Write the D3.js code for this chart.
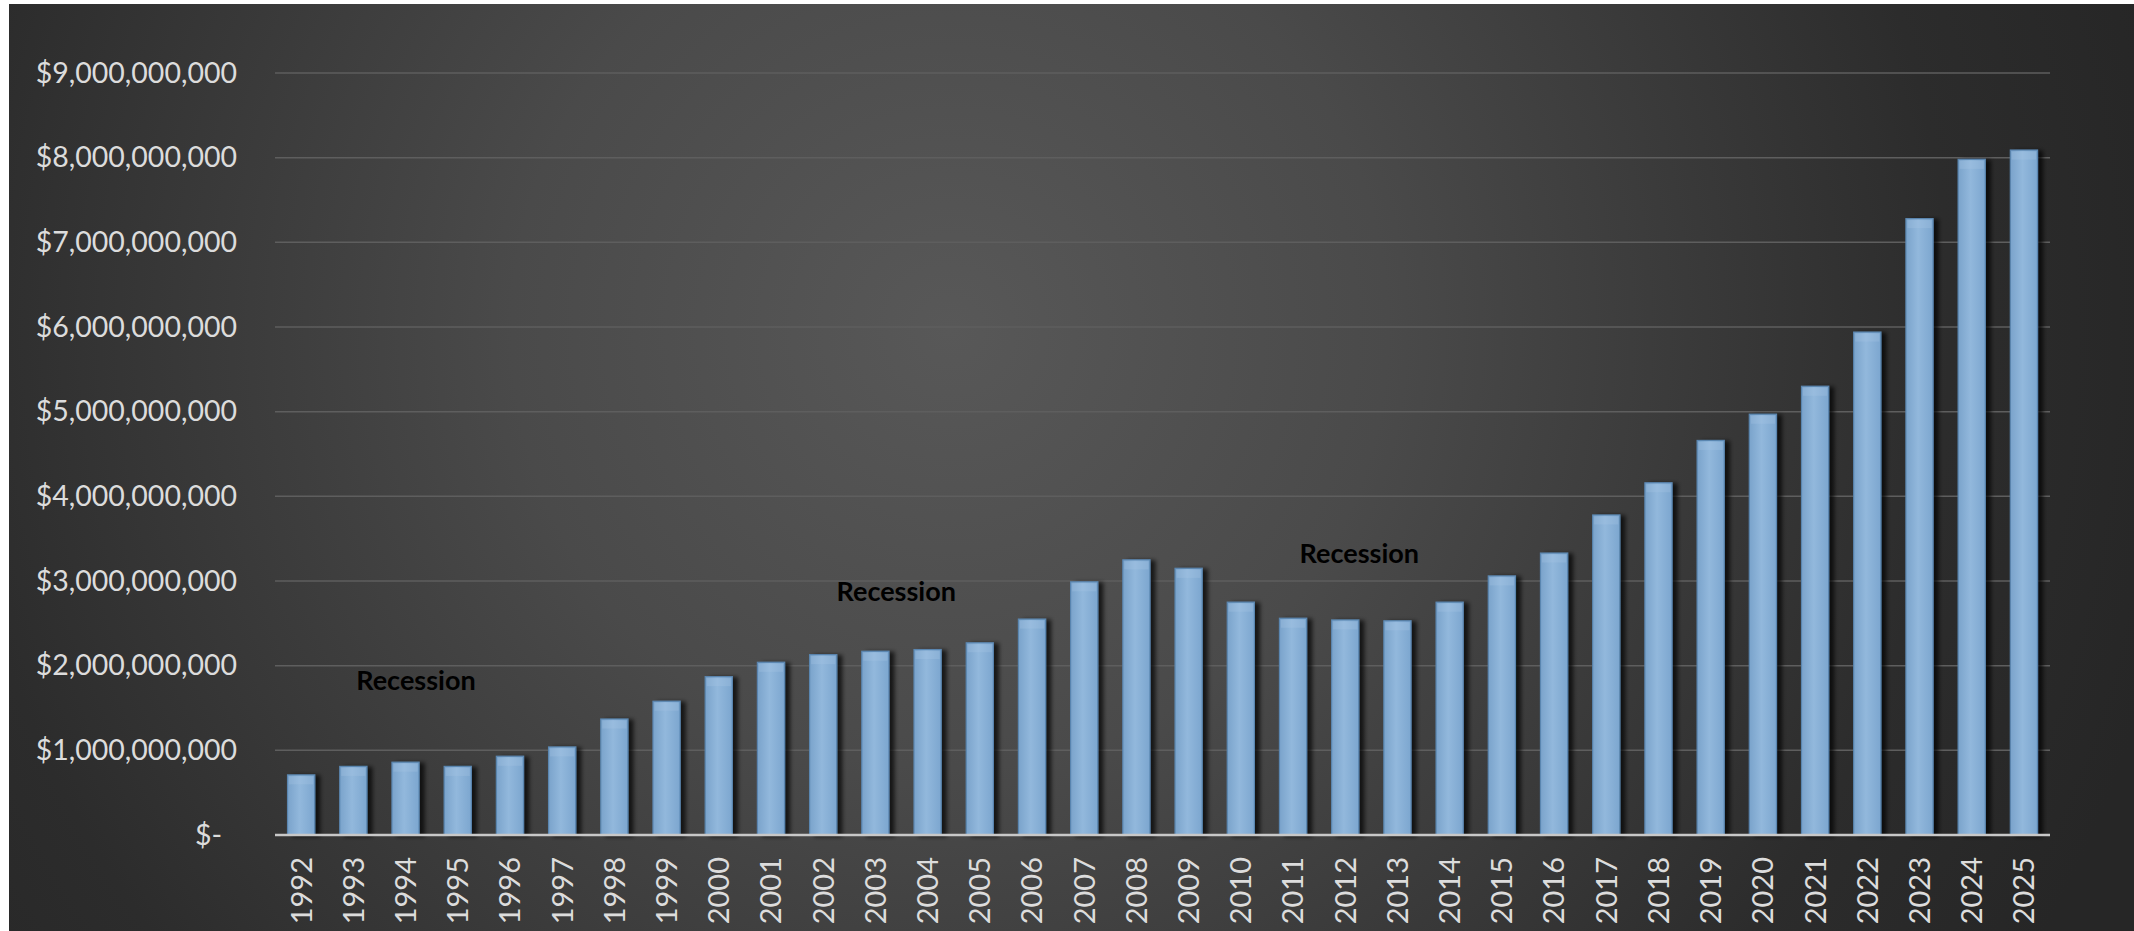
<!DOCTYPE html>
<html>
<head>
<meta charset="utf-8">
<script src="https://cdn.jsdelivr.net/npm/d3@7"></script>
<style>
html,body{margin:0;padding:0;background:#ffffff;}
svg{display:block;}
</style>
</head>
<body>
<svg id="chart" width="2134" height="931"></svg>
<script>
// ---- data ----
const years = [1992,1993,1994,1995,1996,1997,1998,1999,2000,2001,2002,2003,2004,2005,2006,2007,2008,2009,2010,2011,2012,2013,2014,2015,2016,2017,2018,2019,2020,2021,2022,2023,2024,2025];
const values = [0.71e9,0.81e9,0.86e9,0.81e9,0.93e9,1.04e9,1.37e9,1.58e9,1.87e9,2.04e9,2.13e9,2.17e9,2.19e9,2.27e9,2.55e9,2.99e9,3.25e9,3.15e9,2.75e9,2.56e9,2.54e9,2.53e9,2.75e9,3.06e9,3.33e9,3.78e9,4.16e9,4.66e9,4.97e9,5.30e9,5.94e9,7.28e9,7.98e9,8.09e9];
const yTicks = [0,1e9,2e9,3e9,4e9,5e9,6e9,7e9,8e9,9e9];
const noteTexts = ["Recession","Recession","Recession"];
const noteYears = [1994.2, 2003.4, 2012.27];
const noteLevels = [1.71e9, 2.76e9, 3.21e9];

// ---- layout ----
const W = 2134, H = 931;
const plot = {left:275, right:2050, top:73, bottom:835};
const svg = d3.select("#chart");
const defs = svg.append("defs");

const bg = defs.append("radialGradient").attr("id","bg")
  .attr("gradientUnits","userSpaceOnUse")
  .attr("cx",950).attr("cy",330).attr("r",1250);
bg.append("stop").attr("offset","0").attr("stop-color","#585858");
bg.append("stop").attr("offset","0.35").attr("stop-color","#4a4a4a");
bg.append("stop").attr("offset","0.8").attr("stop-color","#2c2c2c");
bg.append("stop").attr("offset","1").attr("stop-color","#262626");

const bar = defs.append("linearGradient").attr("id","barg").attr("x1",0).attr("x2",1).attr("y1",0).attr("y2",0);
bar.append("stop").attr("offset","0").attr("stop-color","#7aa3cb");
bar.append("stop").attr("offset","0.45").attr("stop-color","#92b8dc");
bar.append("stop").attr("offset","1").attr("stop-color","#7ca6cf");

const sh = defs.append("filter").attr("id","shadow").attr("x","-20%").attr("y","-5%").attr("width","160%").attr("height","110%");
sh.append("feDropShadow").attr("dx",5).attr("dy",1).attr("stdDeviation",2.2)
  .attr("flood-color","#000").attr("flood-opacity",0.7);

svg.append("rect").attr("x",9).attr("y",4).attr("width",W-9).attr("height",H-4).attr("fill","url(#bg)");

const x = d3.scaleBand().domain(years).range([plot.left, plot.right]).paddingInner(0.48).paddingOuter(0.24);
const y = d3.scaleLinear().domain([0, 9e9]).range([plot.bottom, plot.top]);
const xYear = d3.scaleLinear().domain([years[0], years[years.length-1]])
  .range([x(years[0]) + x.bandwidth()/2, x(years[years.length-1]) + x.bandwidth()/2]);

// gridlines
svg.append("g").selectAll("line").data(yTicks.filter(d=>d>0)).join("line")
  .attr("x1",plot.left).attr("x2",plot.right)
  .attr("y1",d=>y(d)).attr("y2",d=>y(d))
  .attr("stroke","#5e5e5e").attr("stroke-width",1.5);

// y axis labels
const fmt = d => d === 0 ? "$-" : "$" + d3.format(",")(d);
const yAxis = d3.axisLeft(y).tickValues(yTicks).tickFormat(fmt).tickSize(0).tickPadding(38);
const gy = svg.append("g").attr("transform",`translate(${plot.left},0)`).call(yAxis);
gy.select(".domain").remove();
gy.selectAll("text").attr("fill","#dcdcdc").style("font-family","Lato, 'Open Sans', sans-serif").style("font-size","28.5px")
  .attr("dx", d => d === 0 ? -15 : 0);

// bars
svg.append("g").attr("filter","url(#shadow)").selectAll("rect").data(years).join("rect")
  .attr("x", d => x(d))
  .attr("width", x.bandwidth())
  .attr("y", (d,i) => y(values[i]))
  .attr("height", (d,i) => y(0) - y(values[i]))
  .attr("fill","url(#barg)")
  .attr("stroke","#5a86b0").attr("stroke-width",1.2);

// top highlight
svg.append("g").selectAll("rect").data(years).join("rect")
  .attr("x", d => x(d)+1.5)
  .attr("width", x.bandwidth()-3)
  .attr("y", (d,i) => y(values[i])+1.5)
  .attr("height", 8)
  .attr("fill","#a9c7e4").attr("opacity",0.3);

// x axis
const xAxis = d3.axisBottom(x).tickSize(0).tickPadding(0);
const gx = svg.append("g").attr("transform",`translate(0,${plot.bottom})`).call(xAxis);
gx.select(".domain").attr("d",`M${plot.left},0H${plot.right}`).attr("stroke","#c8c8c8").attr("stroke-width",2.5);
gx.selectAll("text")
  .attr("fill","#dcdcdc").style("font-family","Lato, 'Open Sans', sans-serif").style("font-size","29px")
  .attr("text-anchor","end")
  .attr("dy","0.36em")
  .attr("transform","translate(0,22) rotate(-90)")
  .attr("x",0).attr("y",0);

// annotations
svg.append("g").selectAll("text").data(noteTexts).join("text")
  .attr("x",(d,i)=>xYear(noteYears[i]))
  .attr("y",(d,i)=>y(noteLevels[i]))
  .attr("text-anchor","middle")
  .attr("fill","#000")
  .style("font-family","Lato, 'Open Sans', sans-serif").style("font-weight","bold").style("font-size","27px")
  .text(d=>d);
</script>
</body>
</html>
